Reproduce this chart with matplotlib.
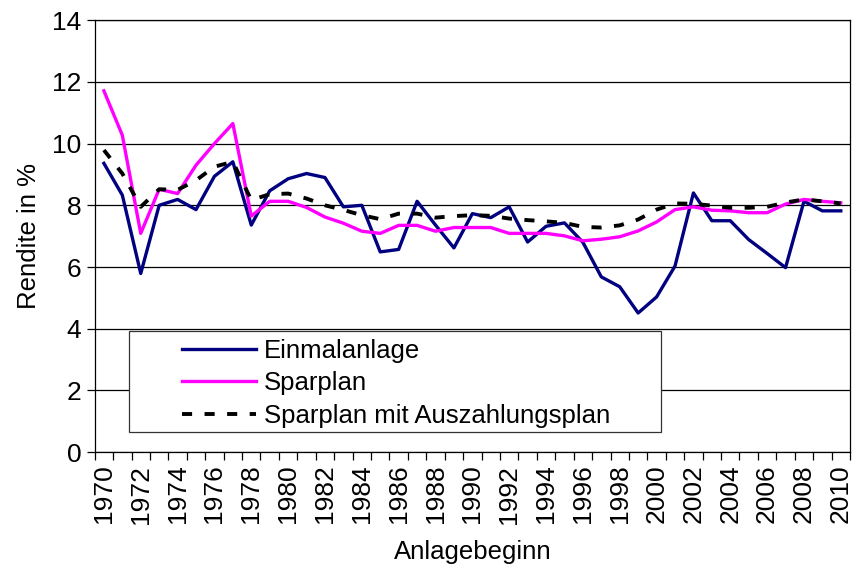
import matplotlib
matplotlib.use("Agg")
import matplotlib.pyplot as plt
from matplotlib.patches import Rectangle
import numpy as np

plt.rcParams['font.family'] = ['Liberation Sans', 'DejaVu Sans']

years = list(range(1970, 2011))

einmalanlage = [9.36, 8.33, 5.79, 8.00, 8.19, 7.86, 8.94, 9.41, 7.36, 8.47,
                8.86, 9.03, 8.90, 7.95, 8.00, 6.49, 6.57, 8.13, 7.36, 6.62,
                7.73, 7.60, 7.95, 6.81, 7.32, 7.43, 6.80, 5.68, 5.36, 4.51,
                5.03, 6.03, 8.40, 7.50, 7.50, 6.89, 6.44, 5.98, 8.13, 7.82,
                7.82]

sparplan = [11.71, 10.27, 7.09, 8.52, 8.38, 9.30, 10.00, 10.65, 7.65, 8.13,
            8.13, 7.93, 7.62, 7.42, 7.16, 7.09, 7.35, 7.35, 7.16, 7.28,
            7.28, 7.28, 7.09, 7.09, 7.09, 7.01, 6.85, 6.90, 6.98, 7.17,
            7.46, 7.86, 7.95, 7.84, 7.82, 7.76, 7.76, 8.04, 8.19, 8.13,
            8.08]

auszahlung = [9.79, 9.03, 7.95, 8.52, 8.50, 8.81, 9.25, 9.41, 8.17, 8.36,
              8.38, 8.22, 8.00, 7.85, 7.68, 7.55, 7.73, 7.73, 7.60, 7.65,
              7.68, 7.66, 7.57, 7.52, 7.48, 7.43, 7.30, 7.28, 7.35, 7.54,
              7.86, 8.06, 8.05, 7.99, 7.92, 7.92, 7.95, 8.09, 8.19, 8.13,
              8.06]

fs = 18.5

fig = plt.figure(figsize=(8.53, 5.76), dpi=100)
ax = fig.add_axes([0.111, 0.215, 0.8855, 0.75])

x = np.arange(len(years))
ax.plot(x, einmalanlage, color="#000080", lw=2.4, label="Einmalanlage")
ax.plot(x, sparplan, color="#FF00FF", lw=2.4, label="Sparplan")
ax.plot(x, auszahlung, color="black", lw=2.8, ls=(0, (2.6, 3.2)),
        label="Sparplan mit Auszahlungsplan")

ax.set_xlim(-0.5, len(years) - 0.5)
ax.set_ylim(0, 14)
ax.set_yticks(range(0, 15, 2))
ax.yaxis.grid(True, color="black", lw=0.9)
ax.set_axisbelow(True)

ax.set_xticks(x[::2])
ax.set_xticklabels([str(y) for y in years[::2]], rotation=90)
ax.set_xticks(np.arange(-0.5, len(years), 1), minor=True)
ax.tick_params(axis="x", which="major", length=0, labelsize=fs + 0.5, pad=9)
ax.tick_params(axis="x", which="minor", length=6, direction="out", width=0.9)
ax.tick_params(axis="y", length=6, direction="out", labelsize=fs + 0.5, width=0.9)

for s in ax.spines.values():
    s.set_linewidth(0.9)
    s.set_color("black")

ax.set_ylabel("Rendite in %", fontsize=fs, labelpad=8)
ax.set_xlabel("Anlagebeginn", fontsize=fs, labelpad=12)

# legend box
ax.add_patch(Rectangle((0.045, 0.046), 0.705, 0.234, transform=ax.transAxes,
                       facecolor="white", edgecolor="#333333", lw=0.9, zorder=4))
leg = ax.legend(loc="upper left", bbox_to_anchor=(0.115, 0.262),
                fontsize=fs, frameon=False, handlelength=2.9,
                handletextpad=0.3, borderpad=0, labelspacing=0.33,
                borderaxespad=0)
leg.set_zorder(5)

fig.savefig("out.png", dpi=100)
